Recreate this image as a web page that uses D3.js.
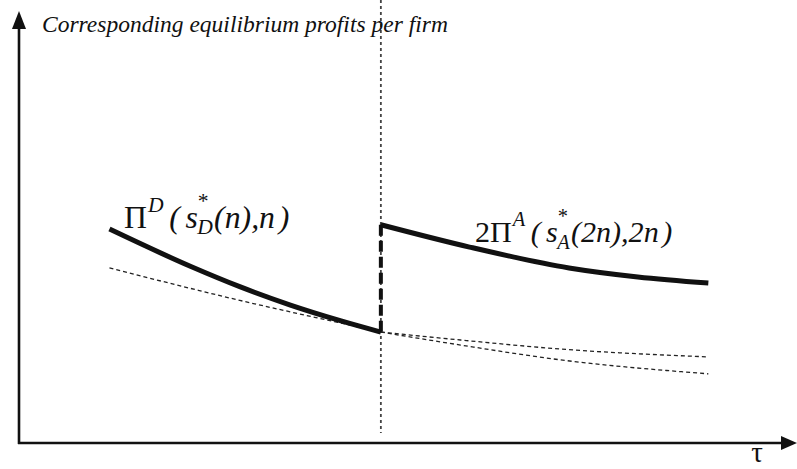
<!DOCTYPE html>
<html>
<head>
<meta charset="utf-8">
<script src="https://cdn.jsdelivr.net/npm/d3@7"></script>
<style>
  html, body { margin: 0; padding: 0; background: #fff; }
  svg { display: block; }
</style>
</head>
<body>
<svg id="chart" width="797" height="469"></svg>
<script>
const SERIF = '"Liberation Serif", "DejaVu Serif", "Times New Roman", serif';

// Regime threshold on the tau axis
const threshold = 10;

// Pi^D(s*_D(n), n): profits below the threshold (solid, heavy)
const tauD = [2.5, 4.75, 6.1, 7.5, 8.9, 10];
const profitD = [5.94, 4.90, 4.34, 3.83, 3.39, 3.08];

// 2 Pi^A(s*_A(2n), 2n): profits above the threshold (solid, heavy)
const tauA = [10, 12.45, 15.2, 17.1, 19.05];
const profitA = [6.06, 5.44, 4.86, 4.61, 4.44];

// Reference curve left of the threshold (thin dashed)
const tauRefLeft = [2.5, 4.75, 6.1, 7.5, 8.9, 10];
const profitRefLeft = [4.86, 4.29, 3.96, 3.64, 3.33, 3.08];

// Continuations right of the threshold (thin dashed)
const tauRefRight = [10, 12.2, 14.95, 19.05];
const profitRefUpper = [3.08, 2.86, 2.61, 2.39];
const profitRefLower = [3.08, 2.72, 2.31, 1.92];

const titleText = "Corresponding equilibrium profits per firm";
const xAxisLabel = "\u03C4";

const svg = d3.select("#chart");

const x = d3.scaleLinear().domain([0, 21.5]).range([19, 797]);
const y = d3.scaleLinear().domain([0, 12.3]).range([443, 0]);

const zip = (xs, ys) => xs.map((t, i) => [t, ys[i]]);
const line = d3.line().x(d => x(d[0])).y(d => y(d[1])).curve(d3.curveMonotoneX);

// Axes with arrowheads
const ax = svg.append("g").attr("stroke", "#111").attr("fill", "#111");
ax.append("line")
  .attr("x1", x(0)).attr("x2", x(0))
  .attr("y1", y(0) + 1).attr("y2", 26)
  .attr("stroke-width", 2.6);
ax.append("path")
  .attr("d", d3.line()([[x(0), 11], [x(0) - 7, 29], [x(0) + 7, 29]]) + "Z")
  .attr("stroke", "none");
ax.append("line")
  .attr("x1", x(0) - 1).attr("x2", 784)
  .attr("y1", y(0)).attr("y2", y(0))
  .attr("stroke-width", 2.6);
ax.append("path")
  .attr("d", d3.line()([[797, y(0)], [781, y(0) - 7], [781, y(0) + 7]]) + "Z")
  .attr("stroke", "none");

// Threshold: dotted vertical guide
svg.append("line")
  .attr("x1", x(threshold)).attr("x2", x(threshold))
  .attr("y1", 0).attr("y2", 433)
  .attr("stroke", "#444").attr("stroke-width", 1.8)
  .attr("stroke-dasharray", "3,3");

// Thin dashed reference curves
const dashed = svg.append("g")
  .attr("fill", "none").attr("stroke", "#222")
  .attr("stroke-width", 1.3).attr("stroke-dasharray", "4,3");
dashed.append("path").attr("d", line(zip(tauRefLeft, profitRefLeft)));
dashed.append("path").attr("d", line(zip(tauRefRight, profitRefUpper)));
dashed.append("path").attr("d", line(zip(tauRefRight, profitRefLower)));

// Jump at the threshold (heavy dashed)
svg.append("line")
  .attr("x1", x(threshold)).attr("x2", x(threshold))
  .attr("y1", y(profitA[0])).attr("y2", y(profitD[profitD.length - 1]))
  .attr("stroke", "#111").attr("stroke-width", 4)
  .attr("stroke-dasharray", "11,5");

// Heavy solid profit curves
const solid = svg.append("g")
  .attr("fill", "none").attr("stroke", "#111")
  .attr("stroke-width", 5).attr("stroke-linecap", "butt");
solid.append("path").attr("d", line(zip(tauD, profitD)));
solid.append("path").attr("d", line(zip(tauA, profitA)));

// Title along the vertical axis, sized to its span
const title = svg.append("text")
  .attr("x", 42).attr("y", 32)
  .attr("font-family", SERIF)
  .attr("font-style", "italic")
  .attr("fill", "#111")
  .attr("font-size", 20)
  .text(titleText);
const tw = title.node().getComputedTextLength();
title.attr("font-size", 20 * 406 / tw);

// Horizontal axis label
svg.append("text")
  .attr("x", 757).attr("y", 462)
  .attr("text-anchor", "middle")
  .attr("font-family", SERIF)
  .attr("fill", "#111")
  .attr("font-size", 29)
  .text(xAxisLabel);

// Curve labels built from pieces with super/subscripts; offsets in units of the base size
function mathLabel(x0, y0, parts, targetWidth) {
  const build = (B) => {
    const t = svg.append("text")
      .attr("x", x0).attr("y", y0)
      .attr("font-family", SERIF)
      .attr("fill", "#111")
      .attr("font-size", B);
    parts.forEach(p => {
      const s = t.append("tspan").text(p.t);
      if (p.it) s.attr("font-style", "italic");
      if (p.fs) s.attr("font-size", p.fs * B);
      if (p.dx) s.attr("dx", p.dx * B);
      if (p.dy) s.attr("dy", p.dy * B);
    });
    return t;
  };
  let t = build(20);
  const w = t.node().getBBox().width;
  t.remove();
  return build(20 * targetWidth / w);
}

mathLabel(124, 228, [
  { t: "\u03A0" },
  { t: "D", it: true, fs: 0.68, dy: -0.5, dx: 0.03 },
  { t: "(", it: true, dy: 0.5, dx: 0.18 },
  { t: "s", it: true, dx: 0.18 },
  { t: "*", fs: 0.68, dy: -0.62, dx: 0.0 },
  { t: "D", it: true, fs: 0.68, dy: 0.82, dx: -0.36 },
  { t: "(n),n", it: true, dy: -0.2, dx: 0.04 },
  { t: ")", it: true, dx: 0.12 }
], 166);

mathLabel(475, 242, [
  { t: "2\u03A0" },
  { t: "A", it: true, fs: 0.68, dy: -0.52, dx: 0.03 },
  { t: "(", it: true, dy: 0.52, dx: 0.18 },
  { t: "s", it: true, dx: 0.18 },
  { t: "*", fs: 0.68, dy: -0.62, dx: 0.0 },
  { t: "A", it: true, fs: 0.68, dy: 0.84, dx: -0.36 },
  { t: "(2n),2n", it: true, dy: -0.22, dx: 0.04 },
  { t: ")", it: true, dx: 0.12 }
], 198);
</script>
</body>
</html>
